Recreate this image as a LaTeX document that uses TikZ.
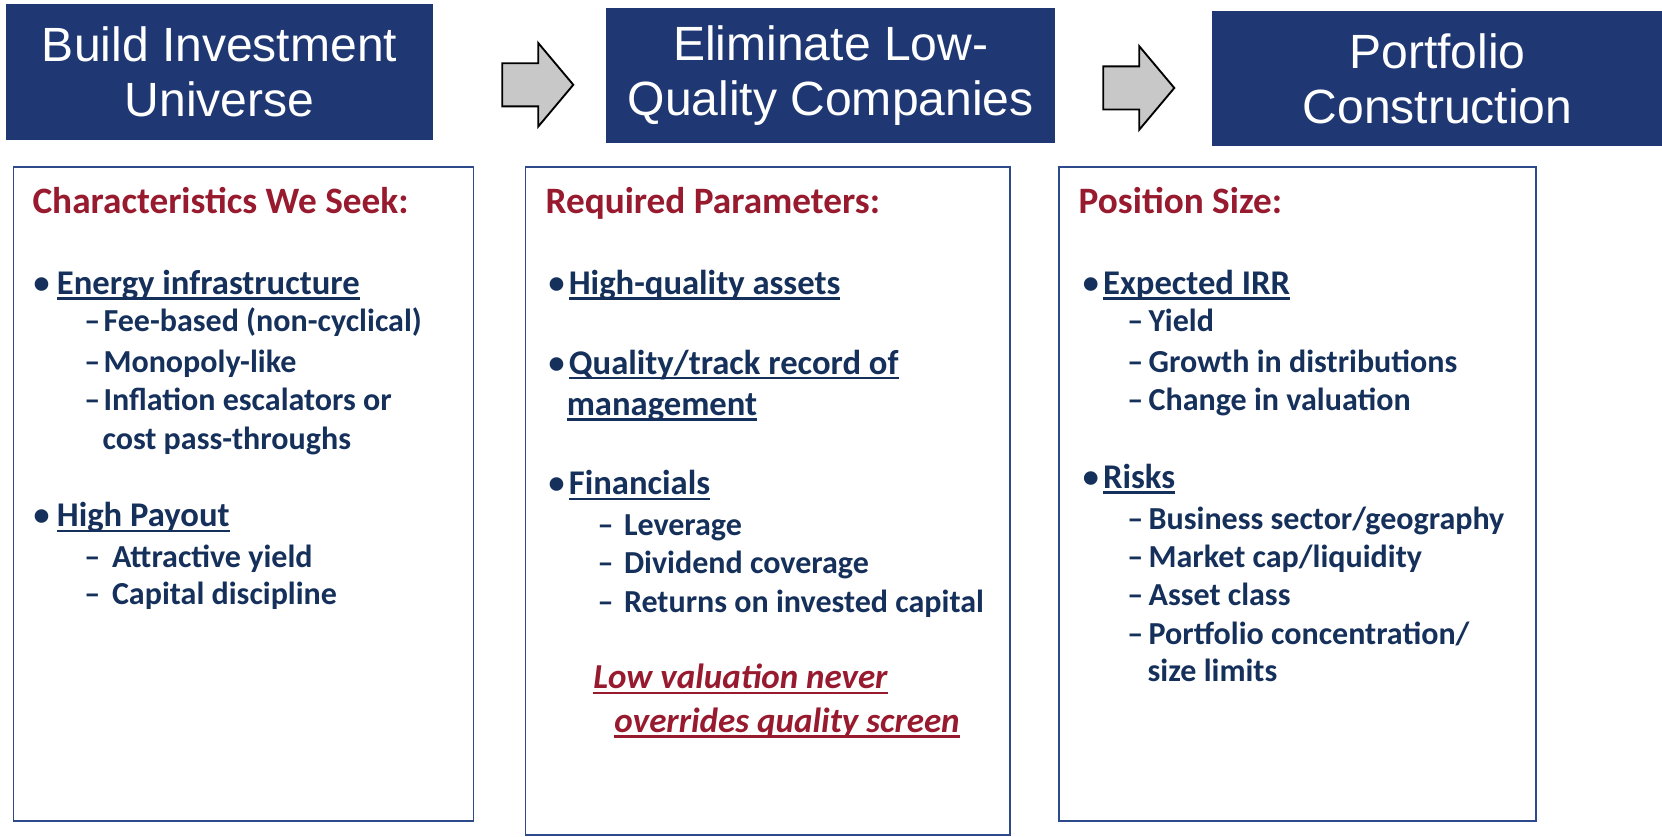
\documentclass[tikz,border=0pt]{standalone}
\usepackage{fontspec}
\setmainfont{Carlito}
\newfontfamily\headfont{Liberation Sans}
\usetikzlibrary{shapes.arrows}
\definecolor{navy}{RGB}{31,56,115}
\definecolor{ink}{RGB}{21,48,90}
\definecolor{wine}{RGB}{152,26,46}
\definecolor{frame}{RGB}{45,75,138}
\definecolor{arrowgray}{RGB}{200,200,200}
% underline sitting close to the baseline
\newcommand{\lowline}[1]{\setbox0\hbox{#1}\rlap{\rule[-0.15em]{\wd0}{0.07em}}\box0}
\newcommand{\keyitem}[2][0.19cm]{\makebox[#1][l]{\raisebox{0.03em}{\fontsize{8.6}{8.6}\selectfont\textbullet}}\lowline{#2}}
\newcommand{\dashitem}[2][0.17cm]{\makebox[#1][l]{--}#2}

\begin{document}
\begin{tikzpicture}[x=1cm,y=1cm,
  header/.style={fill=navy,text=white,anchor=north west,inner sep=0pt,align=center,
    font=\headfont\fontsize{12.9}{14.8}\selectfont},
  panel/.style={draw=frame,line width=0.45pt,fill=white,anchor=north west,inner sep=0pt},
  title/.style={anchor=base west,inner sep=0pt,text=wine,font=\bfseries\fontsize{10}{12}\selectfont},
  key/.style={anchor=base west,inner sep=0pt,text=ink,font=\bfseries\fontsize{9.3}{11}\selectfont},
  item/.style={anchor=base west,inner sep=0pt,text=ink,font=\bfseries\fontsize{8.6}{10}\selectfont},
  note/.style={anchor=base west,inner sep=0pt,text=wine,font=\bfseries\itshape\fontsize{9.4}{11}\selectfont},
  blockarrow/.style={single arrow,draw=black,fill=arrowgray,line width=0.5pt,anchor=tail,
    minimum height=0.67cm,inner xsep=0pt,inner ysep=0.195cm,
    single arrow head extend=0.19cm,single arrow tip angle=100}]
\useasboundingbox (0,0) rectangle (15.68,-7.89);

% step headers
\node[header,minimum width=4.03cm,minimum height=1.28cm] (build) at (0.05,-0.03) {Build Investment\\Universe};
\node[header,minimum width=4.24cm,minimum height=1.27cm] (elim) at (5.71,-0.07) {Eliminate Low-\\Quality Companies};
\node[header,minimum width=4.25cm,minimum height=1.27cm] (port) at (11.43,-0.10) {Portfolio\\Construction};
\node[blockarrow] (arr1) at (4.73,-0.80) {};
\node[blockarrow] (arr2) at (10.40,-0.83) {};

% panels
\node[panel,minimum width=4.34cm,minimum height=6.17cm] (seek) at (0.12,-1.57) {};
\node[panel,minimum width=4.57cm,minimum height=6.30cm] (param) at (4.95,-1.57) {};
\node[panel,minimum width=4.50cm,minimum height=6.17cm] (size) at (9.98,-1.57) {};

% first panel
\node[title] (seekt) at (0.30,-2.01) {Characteristics We Seek:};
\node[key] (seek1) at (0.31,-2.78) {\keyitem[0.22cm]{Energy infrastructure}};
\node[item] (seek1a) at (0.79,-3.13) {\dashitem[0.18cm]{Fee-based (non-cyclical)}};
\node[item] (seek1b) at (0.79,-3.51) {\dashitem[0.18cm]{Monopoly-like}};
\node[item] (seek1c) at (0.79,-3.87) {\dashitem[0.18cm]{Inflation escalators or}};
\node[item] (seek1d) at (0.96,-4.24) {cost pass-throughs};
\node[key] (seek2) at (0.31,-4.97) {\keyitem[0.22cm]{High Payout}};
\node[item] (seek2a) at (0.79,-5.35) {\dashitem[0.26cm]{Attractive yield}};
\node[item] (seek2b) at (0.79,-5.70) {\dashitem[0.26cm]{Capital discipline}};

% second panel
\node[title] (paramt) at (5.14,-2.01) {Required Parameters:};
\node[key] (param1) at (5.17,-2.78) {\keyitem{High-quality assets}};
\node[key] (param2) at (5.17,-3.53) {\keyitem{Quality/track record of}};
\node[key] (param2b) at (5.34,-3.92) {\lowline{management}};
\node[key] (param3) at (5.17,-4.67) {\keyitem{Financials}};
\node[item] (param3a) at (5.63,-5.05) {\dashitem[0.25cm]{Leverage}};
\node[item] (param3b) at (5.63,-5.41) {\dashitem[0.25cm]{Dividend coverage}};
\node[item] (param3c) at (5.63,-5.78) {\dashitem[0.25cm]{Returns on invested capital}};
\node[note] (paramn1) at (5.59,-6.50) {\lowline{Low valuation never}};
\node[note] (paramn2) at (5.79,-6.91) {\lowline{overrides quality screen}};

% third panel
\node[title] (sizet) at (10.17,-2.01) {Position Size:};
\node[key] (size1) at (10.21,-2.78) {\keyitem{Expected IRR}};
\node[item] (size1a) at (10.63,-3.13) {\dashitem[0.20cm]{Yield}};
\node[item] (size1b) at (10.63,-3.51) {\dashitem[0.20cm]{Growth in distributions}};
\node[item] (size1c) at (10.63,-3.87) {\dashitem[0.20cm]{Change in valuation}};
\node[key] (size2) at (10.21,-4.61) {\keyitem{Risks}};
\node[item] (size2a) at (10.63,-5.00) {\dashitem[0.20cm]{Business sector/geography}};
\node[item] (size2b) at (10.63,-5.35) {\dashitem[0.20cm]{Market cap/liquidity}};
\node[item] (size2c) at (10.63,-5.71) {\dashitem[0.20cm]{Asset class}};
\node[item] (size2d) at (10.63,-6.08) {\dashitem[0.20cm]{Portfolio concentration/}};
\node[item] (size2e) at (10.82,-6.43) {size limits};
\end{tikzpicture}
\end{document}
